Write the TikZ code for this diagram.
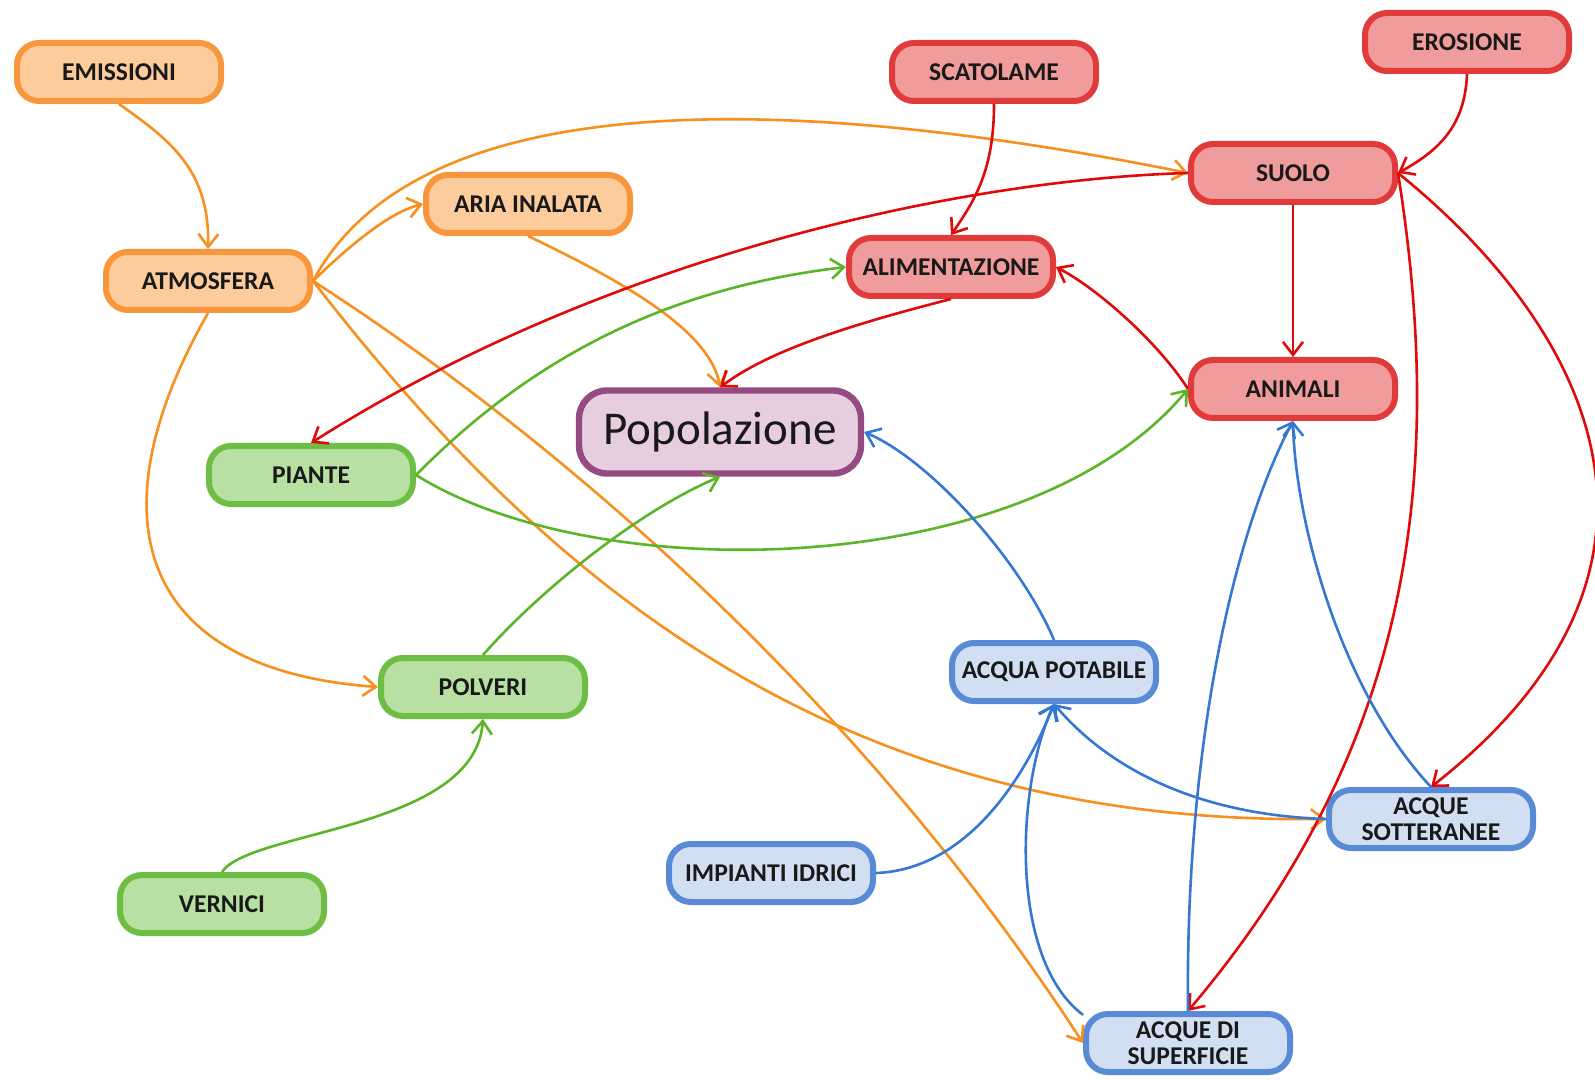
\documentclass[tikz,border=0pt]{standalone}
\usepackage{fontspec}
\setmainfont{Carlito}
\usetikzlibrary{arrows.meta}
\definecolor{oF}{RGB}{252,204,156}
\definecolor{oB}{RGB}{247,150,60}
\definecolor{oE}{RGB}{247,144,30}
\definecolor{rF}{RGB}{240,156,156}
\definecolor{rB}{RGB}{224,58,58}
\definecolor{rE}{RGB}{224,10,10}
\definecolor{gF}{RGB}{184,224,162}
\definecolor{gB}{RGB}{110,190,70}
\definecolor{gE}{RGB}{92,180,40}
\definecolor{bF}{RGB}{210,223,243}
\definecolor{bB}{RGB}{88,138,214}
\definecolor{bE}{RGB}{52,120,212}
\definecolor{pF}{RGB}{230,206,224}
\definecolor{pB}{RGB}{150,74,130}
\tikzset{
  nbox/.style={draw, rounded corners=11pt, line width=3pt, minimum width=102pt,
    minimum height=29pt, inner sep=2pt, align=center, text=black!90,
    font=\fontsize{12.8}{12.7}\selectfont\bfseries},
  obox/.style={nbox, draw=oB, fill=oF},
  rbox/.style={nbox, draw=rB, fill=rF},
  gbox/.style={nbox, draw=gB, fill=gF},
  bbox/.style={nbox, draw=bB, fill=bF},
  conn/.style={line width=1.3pt, -{Straight Barb[length=6.5pt,width=10pt]}},
  oc/.style={conn, draw=oE},
  rc/.style={conn, draw=rE},
  gc/.style={conn, draw=gE},
  bc/.style={conn, draw=bE},
}
\begin{document}
\begin{tikzpicture}[x=0.5pt,y=-0.5pt]
\fill[white] (0,0) rectangle (1595,1080);
\useasboundingbox (0,0) rectangle (1595,1080);
% nodes
\node[obox] (emis) at (119,72) {EMISSIONI};
\node[obox] (atm) at (208,281) {ATMOSFERA};
\node[obox] (aria) at (528,204) {ARIA INALATA};
\node[rbox] (scat) at (994,72) {SCATOLAME};
\node[rbox] (eros) at (1467,42) {EROSIONE};
\node[rbox] (suolo) at (1293,173) {SUOLO};
\node[rbox] (alim) at (951,267) {ALIMENTAZIONE};
\node[rbox] (anim) at (1293,389) {ANIMALI};
\node[draw=pB, fill=pF, line width=3.2pt, rounded corners=14pt, minimum width=141pt,
  minimum height=41.5pt, text=black!90, font=\fontsize{23.5}{26}\selectfont] (pop) at (720,432) {Popolazione};
\node[gbox] (piante) at (311,475) {PIANTE};
\node[gbox] (polv) at (483,687) {POLVERI};
\node[gbox] (vern) at (222,904) {VERNICI};
\node[bbox] (apot) at (1054,672) {ACQUA POTABILE};
\node[bbox] (imp) at (771,873) {IMPIANTI IDRICI};
\node[bbox] (asott) at (1431,819) {ACQUE\\SOTTERANEE};
\node[bbox] (asup) at (1188,1043) {ACQUE DI\\SUPERFICIE};
% orange
\draw[oc] (emis.south) .. controls (170,140) and (210,170) .. (atm.north);
\draw[oc] (atm.east) .. controls (350,245) and (390,212) .. (aria.west);
\draw[oc] (atm.east) .. controls (420,80) and (800,95) .. (suolo.west);
\draw[oc] (atm.south) .. controls (90,520) and (140,670) .. (polv.west);
\draw[oc] (atm.east) .. controls (560,440) and (860,700) .. (asup.west);
\draw[oc] (atm.east) .. controls (560,600) and (850,825) .. (asott.west);
\draw[oc] (aria.south) .. controls (620,280) and (710,330) .. (pop.north);
% red
\draw[rc] (scat.south) .. controls (994,170) and (975,200) .. (alim.north);
\draw[rc] (eros.south) .. controls (1465,125) and (1440,150) .. (suolo.east);
\draw[rc] (suolo.west) .. controls (950,180) and (600,260) .. (piante.north);
\draw[rc] (alim.south) .. controls (850,325) and (770,350) .. (pop.north);
\draw[rc] (anim.west) .. controls (1160,345) and (1100,290) .. (alim.east);
\draw[rc] (suolo.south) -- (anim.north);
\draw[rc] (suolo.east) .. controls (1450,500) and (1400,760) .. (asup.north);
\draw[rc] (suolo.east) .. controls (1580,320) and (1720,560) .. (asott.north);
% green
\draw[gc] (piante.east) .. controls (520,370) and (650,290) .. (alim.west);
\draw[gc] (piante.east) .. controls (600,590) and (1030,580) .. (anim.west);
\draw[gc] (polv.north) .. controls (540,590) and (640,510) .. (pop.south);
\draw[gc] (vern.north) .. controls (250,830) and (475,830) .. (polv.south);
% blue
\draw[bc] (apot.north) .. controls (1020,560) and (930,460) .. (pop.east);
\draw[bc] (imp.east) .. controls (960,870) and (1020,790) .. (apot.south);
\draw[bc] (asup.165) .. controls (1010,960) and (1015,790) .. (apot.south);
\draw[bc] (asott.west) .. controls (1200,815) and (1110,770) .. (apot.south);
\draw[bc] (asup.north) .. controls (1185,760) and (1230,540) .. (anim.south);
\draw[bc] (asott.north) .. controls (1340,690) and (1295,520) .. (anim.south);
\end{tikzpicture}
\end{document}
